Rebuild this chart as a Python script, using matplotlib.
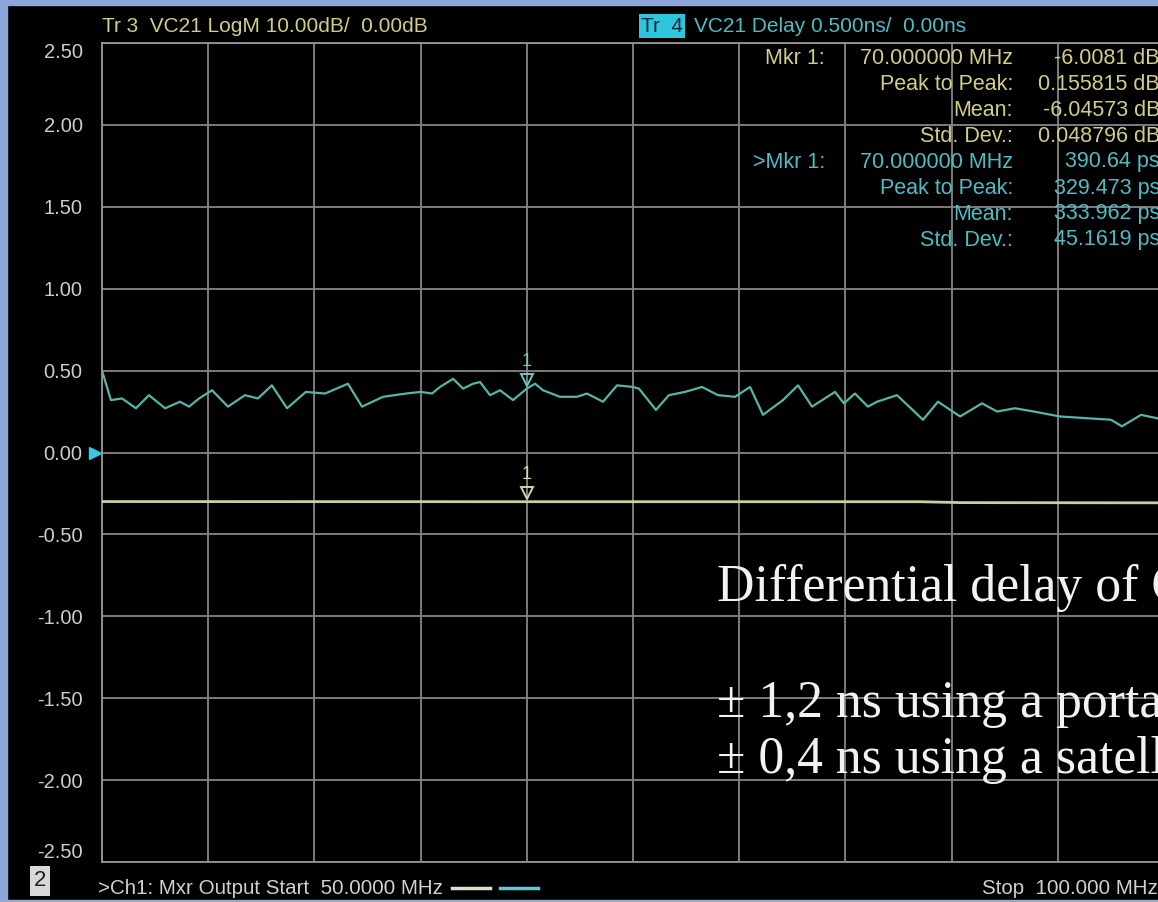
import matplotlib
matplotlib.use('Agg')
import numpy as np
import matplotlib.pyplot as plt
import matplotlib.transforms as mtransforms
from matplotlib.patches import Rectangle
from matplotlib.lines import Line2D

W, H = 1158, 902

# Tr 4: VC21 group delay (ns)
freq_mhz = [50.00, 50.42, 50.94, 51.60, 52.21, 52.97, 53.67, 54.10, 54.57, 55.18,
            55.93, 56.73, 57.34, 58.00, 58.71, 59.60, 60.50, 61.58, 62.24, 63.23,
            64.31, 65.02, 65.54, 65.91, 66.53, 67.00, 67.47, 67.80, 68.27, 68.74,
            69.35, 70.00, 70.39, 70.76, 71.56, 72.36, 72.83, 73.59, 74.25, 75.00,
            75.28, 76.08, 76.69, 77.45, 78.25, 79.00, 79.80, 80.51, 81.12, 82.06,
            82.77, 83.43, 84.51, 84.93, 85.45, 86.06, 86.49, 87.43, 88.65, 89.36,
            90.40, 91.43, 92.14, 92.98, 93.88, 95.10, 96.28, 97.50, 98.02, 98.92,
            100.00]
delay_ns = [0.50, 0.32, 0.33, 0.27, 0.35, 0.27, 0.31, 0.28, 0.33, 0.38,
            0.28, 0.35, 0.33, 0.41, 0.27, 0.37, 0.36, 0.42, 0.28, 0.34,
            0.36, 0.37, 0.36, 0.40, 0.45, 0.39, 0.42, 0.43, 0.35, 0.38,
            0.32, 0.39, 0.42, 0.38, 0.34, 0.34, 0.36, 0.31, 0.41, 0.40,
            0.39, 0.26, 0.35, 0.37, 0.40, 0.35, 0.34, 0.40, 0.23, 0.32,
            0.41, 0.28, 0.37, 0.30, 0.36, 0.28, 0.31, 0.35, 0.20, 0.31,
            0.22, 0.30, 0.25, 0.27, 0.25, 0.22, 0.21, 0.20, 0.16, 0.23,
            0.20]

# Tr 3: VC21 LogM (dB)
logm_freq = [50.0, 70.0, 88.5, 90.5, 100.0]
logm_db = [-5.99, -6.0081, -6.01, -6.12, -6.146]

yticks = [2.5, 2.0, 1.5, 1.0, 0.5, 0.0, -0.5, -1.0, -1.5, -2.0, -2.5]
ytick_labels = ['2.50', '2.00', '1.50', '1.00', '0.50', '0.00',
                '-0.50', '-1.00', '-1.50', '-2.00', '-2.50']

mkr_freq = 70.0
mkr_delay = 0.39064
mkr_db = -6.0081

stats_tr3 = [('Mkr 1:', '70.000000 MHz', '-6.0081 dB'),
             ('', 'Peak to Peak:', '0.155815 dB'),
             ('', 'Mean:', '-6.04573 dB'),
             ('', 'Std. Dev.:', '0.048796 dB')]
stats_tr4 = [('>Mkr 1:', '70.000000 MHz', '390.64 ps'),
             ('', 'Peak to Peak:', '329.473 ps'),
             ('', 'Mean:', '333.962 ps'),
             ('', 'Std. Dev.:', '45.1619 ps')]

note_lines = ['Differential delay of C',
              '\u00b1 1,2 ns using a portable',
              '\u00b1 0,4 ns using a satellite']

YEL = '#d2cd86'
YEL_TRACE = '#cfcca4'
CYAN = '#4dbcc4'
CYAN_TRACE = '#55b5a8'
GRID = '#858585'
LBL = '#cccccc'
BLUE = '#8ea6dc'
FONT = 'Liberation Sans'


def fx(px):
    return px / W


def fy(py):
    return 1 - py / H


fig = plt.figure(figsize=(W / 100, H / 100), dpi=100, facecolor='black')
fig.patches.append(Rectangle((0, 0), fx(7), 1, transform=fig.transFigure,
                             color=BLUE, zorder=10))
fig.patches.append(Rectangle((0, fy(5)), 1, 5 / H, transform=fig.transFigure,
                             color=BLUE, zorder=10))
fig.patches.append(Rectangle((0, 0), 1, 2 / H, transform=fig.transFigure,
                             color='#9aa8c8', zorder=10))

ax = fig.add_axes([fx(102), 40 / H, 1062 / W, 819 / H])
ax.set_facecolor('black')
ax.set_xlim(50, 100)
ax.set_ylim(-2.5, 2.5)
ax.set_xticks(np.arange(50, 101, 5))
ax.set_xticklabels([])
ax.set_yticks(yticks)
ax.set_yticklabels(ytick_labels, family=FONT)
ax.tick_params(axis='both', length=0)
ax.tick_params(axis='y', pad=14, labelsize=14.5, labelcolor=LBL)
ax.grid(True, color=GRID, lw=1.3)
for s in ax.spines.values():
    s.set_color('#959595')
    s.set_linewidth(1.3)
tl = ax.get_yticklabels()
tl[0].set_va('top')
tl[-1].set_va('bottom')

ax2 = ax.twinx()
ax2.set_ylim(-50, 50)
ax2.axis('off')
ax2.plot(logm_freq, logm_db, color=YEL_TRACE, lw=2.0)

ax.plot(freq_mhz, delay_ns, color=CYAN_TRACE, lw=1.6)

# reference position arrow for Tr 4
ref = mtransforms.blended_transform_factory(ax.transAxes, ax.transData)
ax.plot([-0.007], [0.0], marker='>', ms=8, color='#3cc6e0', transform=ref,
        clip_on=False, zorder=5)

# marker 1 on both traces
for a, yv, col in [(ax, mkr_delay, '#6cc8bc'), (ax2, mkr_db, '#d8d4a4')]:
    off = mtransforms.offset_copy(a.transData, fig=fig, x=0, y=9, units='dots')
    a.plot([mkr_freq], [yv], marker='v', ms=8, mfc='none', mec=col, mew=1.4,
           transform=off, clip_on=False)
    a.annotate('1', xy=(mkr_freq, yv), xytext=(0, 19), textcoords='offset pixels',
               ha='center', va='bottom', color=col, fontsize=13, family=FONT)

# header
fig.text(fx(102), fy(26), 'Tr 3  VC21 LogM 10.00dB/  0.00dB', color=YEL,
         fontsize=15, family=FONT, ha='left', va='center')
fig.text(fx(641), fy(26), 'Tr  4', color='#0c2a38', fontsize=15, family=FONT,
         ha='left', va='center',
         bbox=dict(facecolor='#2ec6dc', edgecolor='none', pad=1.5))
fig.text(fx(694), fy(26), 'VC21 Delay 0.500ns/  0.00ns', color=CYAN,
         fontsize=15, family=FONT, ha='left', va='center')

# marker statistics
for i, (a, b, c) in enumerate(stats_tr3 + stats_tr4):
    col = YEL if i < 4 else CYAN
    y = fy(58 + 26 * i)
    fig.text(fx(825), y, a, color=col, fontsize=15.5, family=FONT, ha='right', va='center')
    fig.text(fx(1013), y, b, color=col, fontsize=15.5, family=FONT, ha='right', va='center')
    fig.text(fx(1160), y, c, color=col, fontsize=15.5, family=FONT, ha='right', va='center')

# slide annotation (clipped at the right edge as in the source slide)
for txt, base in zip(note_lines, [601, 717, 773]):
    fig.text(fx(717), fy(base), txt, color='#f2f2f2', fontsize=37.3,
             family='Liberation Serif', ha='left', va='baseline')

# status line
fig.text(fx(40), fy(881), '2', color='#202020', fontsize=16, family=FONT,
         ha='center', va='center',
         bbox=dict(facecolor='#d8d8d8', edgecolor='none', pad=3))
fig.text(fx(98), fy(888), '>Ch1: Mxr Output Start  50.0000 MHz', color='#d0d0d0',
         fontsize=14.8, family=FONT, ha='left', va='center')
fig.add_artist(Line2D([fx(452), fx(490)], [fy(888), fy(888)], color='#e0e0c8',
                      lw=2.5, transform=fig.transFigure))
fig.add_artist(Line2D([fx(500), fx(538)], [fy(888), fy(888)], color='#5cc8d8',
                      lw=2.5, transform=fig.transFigure))
fig.text(fx(1158), fy(888), 'Stop  100.000 MHz', color='#d0d0d0',
         fontsize=14.8, family=FONT, ha='right', va='center')

fig.savefig('out.png', dpi=100, facecolor='black')
